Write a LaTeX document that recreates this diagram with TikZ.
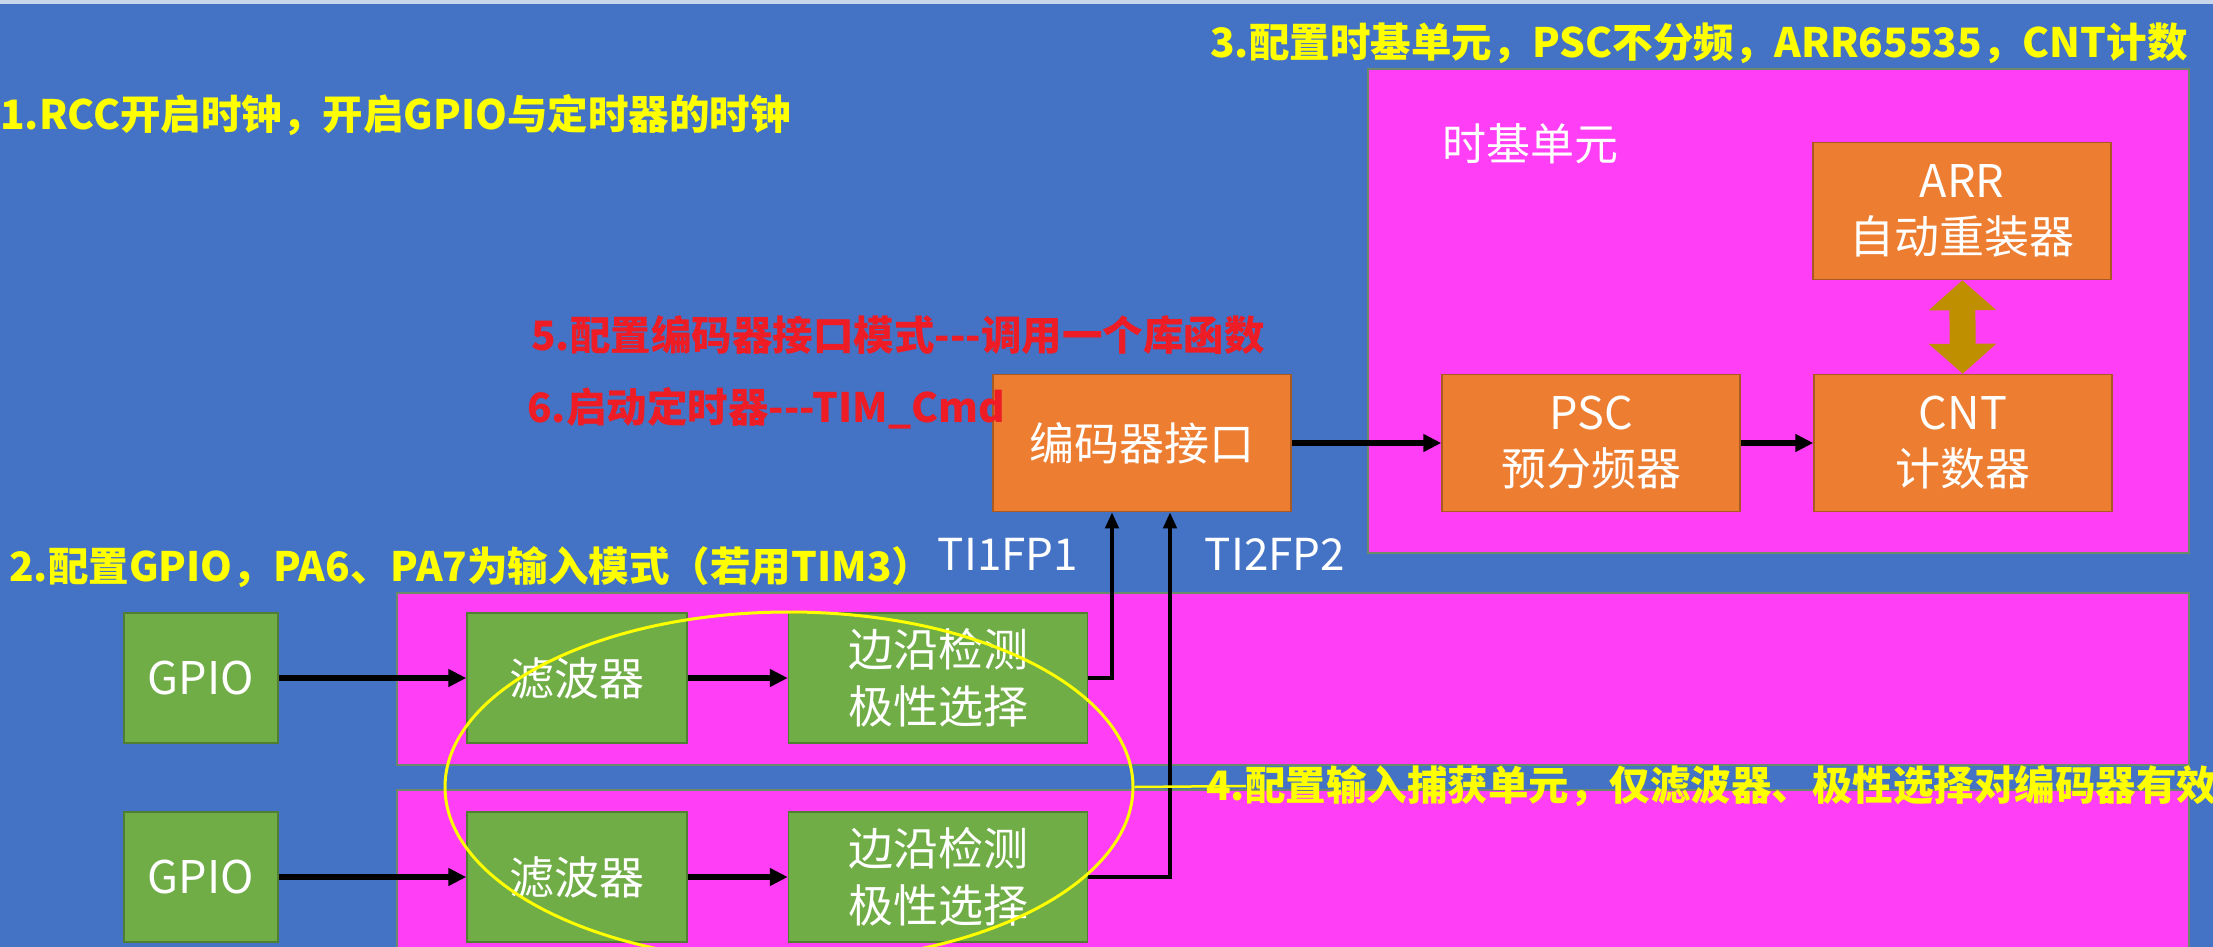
\documentclass[tikz,border=0pt]{standalone}
\usepackage{fontspec}
\setmainfont{Noto Sans CJK SC}
\usetikzlibrary{shapes.geometric,arrows.meta}
\definecolor{bgblue}{HTML}{4472C4}
\definecolor{topstrip}{HTML}{C9D6EA}
\definecolor{unitpink}{HTML}{FF3EF5}
\definecolor{unitborder}{HTML}{6A8A6A}
\definecolor{boxorange}{HTML}{ED7D31}
\definecolor{orangeborder}{HTML}{A85A22}
\definecolor{boxgreen}{HTML}{70AD47}
\definecolor{greenborder}{HTML}{507E32}
\definecolor{arrowgold}{HTML}{BF8F00}
\definecolor{notered}{HTML}{EE1C25}
\definecolor{noteyellow}{HTML}{FFFF00}
\begin{document}
\begin{tikzpicture}[x=1pt,y=-1pt]
        \tikzstyle{unit_style} = [fill=unitpink,draw=unitborder,line width=1.5pt]
        \tikzstyle{orange_style} = [rectangle,fill=boxorange,draw=orangeborder,line width=1.5pt,minimum width=298pt,minimum height=137pt,text=white,align=center,font=\fontsize{45}{56}\selectfont]
        \tikzstyle{green_style} = [rectangle,fill=boxgreen,draw=greenborder,line width=1.5pt,minimum height=130pt,text=white,align=center,font=\fontsize{45}{57}\selectfont]
        \tikzstyle{label_style} = [text=white,font=\fontsize{44}{52}\selectfont]
        \tikzstyle{note_style} = [anchor=west,inner sep=0pt,font=\bfseries\fontsize{40.5}{48}\selectfont]
        \tikzstyle{edge_style} = [draw=black,line width=5.5pt,-{Triangle[length=18pt,width=17pt]}]
        \tikzstyle{input_style} = [draw=black,line width=4pt,-{Triangle[length=16pt,width=13pt]}]
        \useasboundingbox (0,0) rectangle (2213,947);
        \fill[bgblue] (0,0) rectangle (2213,947);
        \fill[topstrip] (0,0) rectangle (2213,4);
        % unit frames
        \draw[unit_style] (1368,69) rectangle (2189,553);
        \draw[unit_style] (397,593) rectangle (2189,765);
        \draw[unit_style] (397,790) rectangle (2189,975);
        % time base
        \node[orange_style] (arr) at (1962,211) {ARR\\自动重装器};
        \node[orange_style] (cnt) at (1963,443) {CNT\\计数器};
        \node[orange_style] (psc) at (1591,443) {PSC\\预分频器};
        \node[orange_style] (enc) at (1142,443) {编码器接口};
        % input capture
        \node[green_style,minimum width=154pt] (gpio1) at (201,678) {GPIO};
        \node[green_style,minimum width=220pt] (flt1) at (577,678) {滤波器};
        \node[green_style,minimum width=299pt] (edg1) at (938,678) {边沿检测\\极性选择};
        \node[green_style,minimum width=154pt] (gpio2) at (201,877) {GPIO};
        \node[green_style,minimum width=220pt] (flt2) at (577,877) {滤波器};
        \node[green_style,minimum width=299pt] (edg2) at (938,877) {边沿检测\\极性选择};
        \draw[edge_style] (enc) -- (psc);
        \draw[edge_style] (psc) -- (cnt);
        \draw[arrowgold,line width=26pt,{Triangle[length=30pt,width=66pt]}-{Triangle[length=30pt,width=66pt]}] (arr) -- (cnt);
        \draw[edge_style] (gpio1) -- (flt1);
        \draw[edge_style] (flt1) -- (edg1);
        \draw[edge_style] (gpio2) -- (flt2);
        \draw[edge_style] (flt2) -- (edg2);
        \draw[input_style] (edg1.east) -| ([xshift=-30pt]enc.south);
        \draw[input_style] (edg2.east) -| ([xshift=28pt]enc.south);
        \node[label_style,anchor=west] (tb) at (1439,144) {时基单元};
        \node[label_style] (ti1) at (1008,554) {TI1FP1};
        \node[label_style] (ti2) at (1275,554) {TI2FP2};
        % steps
        \node[draw=noteyellow,line width=3pt,ellipse,minimum width=688pt,minimum height=350pt,inner sep=0pt] (capt) at (789,787) {};
        \node[note_style,text=noteyellow] (t1) at (0,115) {1.RCC开启时钟，开启GPIO与定时器的时钟};
        \node[note_style,text=noteyellow] (t2) at (9,567) {2.配置GPIO，PA6、PA7为输入模式（若用TIM3）};
        \node[note_style,text=noteyellow] (t3) at (1210,43) {3.配置时基单元，PSC不分频，ARR65535，CNT计数};
        \node[note_style,text=noteyellow] (t4) at (1206,786) {4.配置输入捕获单元，仅滤波器、极性选择对编码器有效};
        \node[note_style,text=notered] (t5) at (531,335) {5.配置编码器接口模式-{}-{}-调用一个库函数};
        \node[note_style,text=notered] (t6) at (527,408) {6.启动定时器-{}-{}-TIM\_Cmd};
        \draw[noteyellow,line width=2.5pt] (capt.east) -- ([xshift=40pt]t4.west);
      \end{tikzpicture}
\end{document}
